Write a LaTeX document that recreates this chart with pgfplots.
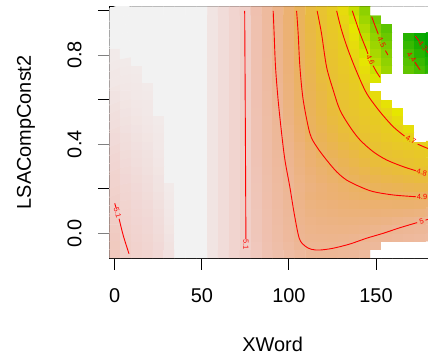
\documentclass[border=0pt]{standalone}
\usepackage{fontspec}
\setmainfont{Liberation Sans}
\usepackage{graphicx}
\usepackage{pgfplots}
\pgfplotsset{compat=1.18}
\pgfplotsset{
 colormap={terrainz}{rgb255(0pt)=(0,166,0); rgb255(100pt)=(45,182,0); rgb255(200pt)=(99,198,0); rgb255(300pt)=(160,214,0); rgb255(380pt)=(230,230,0); rgb255(450pt)=(231,206,29); rgb255(570pt)=(233,189,58); rgb255(630pt)=(234,179,88); rgb255(690pt)=(236,177,118); rgb255(750pt)=(237,182,148); rgb255(820pt)=(239,194,179); rgb255(865pt)=(241,214,211); rgb255(905pt)=(242,242,242); rgb255(910pt)=(255,255,255)},
 cl/.style={red, line width=0.9bp, smooth},
}
\tikzset{clab/.style={text=red, font=\fontsize{7.5}{9}\selectfont, inner sep=0pt}}
\begin{document}
\begin{tikzpicture}
\useasboundingbox (-109.3bp,-98bp) rectangle (318.7bp,258bp);
\clip (-109.3bp,-98bp) rectangle (318.7bp,258bp);
\begin{axis}[
  at={(0,0)}, anchor=south west,
  scale only axis, width=326.6bp, height=251.3bp,
  xmin=-3.125, xmax=184.375, ymin=-0.1108, ymax=1.0168,
  axis line style={black, line width=1bp},
  tick align=outside, major tick length=11.5bp,
  tick pos=left,
  xtick={0,50,100,150}, ytick={0,0.4,0.8},
  extra y ticks={0.2,0.6,1.0}, extra y tick labels={},
  xtick style={black, line width=0.9bp},
  ytick style={gray, line width=1bp},
  extra y tick style={ytick style={black, line width=0.9bp}},
  /pgf/number format/assume math mode=true,
  ticklabel style={font=\fontsize{20}{24}\selectfont, inner sep=0pt},
  xticklabel style={anchor=north, yshift=-18.5bp},
  yticklabel={\rotatebox{90}{\pgfmathprintnumber[fixed,fixed zerofill,precision=1,assume math mode=true]{\tick}}},
  yticklabel style={anchor=east, xshift=-16.1bp},
  xlabel={XWord}, ylabel={LSACompConst2},
  label style={font=\fontsize{20}{24}\selectfont, inner sep=0pt},
  xlabel style={at={(axis description cs:0.5,-0.37008)}, anchor=base},
  ylabel style={at={(axis description cs:-0.23975,0.5)}, anchor=base},
  colormap name=terrainz,
  point meta min=4.25, point meta max=5.16,
]
\addplot[patch, patch type=rectangle, mesh input=image, shader=flat corner, mesh/cols=30, mesh/rows=30, point meta=\thisrowno{0}]
 table[header=false, row sep=\\, x expr={6.25*mod(\coordindex,30)}, y expr={-0.092+0.03759*floor(\coordindex/30)}] {
5.084\\5.097\\5.105\\5.110\\5.118\\5.130\\5.155\\5.155\\5.155\\5.135\\5.123\\5.110\\5.099\\5.084\\5.068\\5.052\\5.036\\5.020\\5.006\\5.004\\5.005\\5.009\\5.014\\5.021\\5.16\\5.16\\5.16\\5.16\\5.16\\5.16\\
5.087\\5.099\\5.107\\5.112\\5.120\\5.132\\5.155\\5.155\\5.155\\5.135\\5.123\\5.110\\5.099\\5.082\\5.064\\5.046\\5.028\\5.007\\4.998\\4.996\\4.997\\5.000\\5.004\\5.009\\5.016\\5.16\\5.16\\5.16\\5.16\\5.16\\
5.089\\5.101\\5.109\\5.114\\5.122\\5.134\\5.155\\5.155\\5.155\\5.135\\5.123\\5.110\\5.099\\5.080\\5.060\\5.040\\5.020\\4.999\\4.991\\4.988\\4.987\\4.988\\4.992\\4.997\\5.003\\5.008\\5.014\\5.019\\5.023\\5.028\\
5.092\\5.104\\5.111\\5.116\\5.124\\5.136\\5.155\\5.155\\5.155\\5.135\\5.123\\5.110\\5.099\\5.079\\5.059\\5.038\\5.018\\4.994\\4.983\\4.979\\4.976\\4.975\\4.977\\4.980\\4.985\\4.992\\5.000\\5.005\\5.010\\5.014\\
5.095\\5.106\\5.113\\5.117\\5.125\\5.138\\5.155\\5.155\\5.155\\5.135\\5.123\\5.110\\5.099\\5.079\\5.058\\5.037\\5.016\\4.989\\4.976\\4.970\\4.966\\4.963\\4.963\\4.964\\4.966\\4.970\\4.976\\4.983\\4.992\\5.004\\
5.097\\5.108\\5.115\\5.119\\5.127\\5.140\\5.155\\5.155\\5.155\\5.135\\5.123\\5.110\\5.099\\5.078\\5.056\\5.034\\5.013\\4.984\\4.968\\4.961\\4.956\\4.951\\4.949\\4.948\\4.946\\4.948\\4.951\\4.954\\4.959\\4.966\\
5.100\\5.110\\5.117\\5.121\\5.129\\5.141\\5.155\\5.155\\5.155\\5.135\\5.123\\5.110\\5.099\\5.077\\5.055\\5.032\\5.009\\4.980\\4.961\\4.953\\4.946\\4.939\\4.934\\4.931\\4.927\\4.926\\4.925\\4.925\\4.926\\4.929\\
5.102\\5.112\\5.118\\5.123\\5.131\\5.142\\5.155\\5.155\\5.155\\5.135\\5.123\\5.110\\5.099\\5.077\\5.053\\5.030\\5.006\\4.975\\4.953\\4.943\\4.935\\4.926\\4.919\\4.913\\4.907\\4.905\\4.902\\4.898\\4.894\\4.893\\
5.105\\5.114\\5.120\\5.125\\5.133\\5.143\\5.155\\5.155\\5.155\\5.135\\5.123\\5.110\\5.099\\5.076\\5.052\\5.027\\5.003\\4.978\\4.958\\4.945\\4.931\\4.918\\4.906\\4.896\\4.886\\4.880\\4.874\\4.867\\4.860\\4.855\\
5.108\\5.117\\5.122\\5.127\\5.134\\5.155\\5.155\\5.155\\5.155\\5.135\\5.123\\5.110\\5.099\\5.075\\5.050\\5.025\\5.000\\4.972\\4.950\\4.933\\4.918\\4.902\\4.891\\4.877\\4.865\\4.855\\4.847\\4.837\\4.827\\4.819\\
5.110\\5.119\\5.124\\5.129\\5.136\\5.155\\5.155\\5.155\\5.155\\5.135\\5.123\\5.110\\5.099\\5.074\\5.048\\5.022\\4.997\\4.967\\4.942\\4.924\\4.906\\4.888\\4.873\\4.858\\4.843\\4.830\\4.819\\4.806\\4.797\\4.783\\
5.113\\5.121\\5.126\\5.131\\5.138\\5.155\\5.155\\5.155\\5.155\\5.135\\5.123\\5.110\\5.099\\5.073\\5.046\\5.020\\4.993\\4.961\\4.933\\4.912\\4.894\\4.875\\4.857\\4.839\\4.821\\4.805\\4.792\\4.778\\4.763\\4.750\\
5.115\\5.123\\5.128\\5.132\\5.140\\5.155\\5.155\\5.155\\5.155\\5.135\\5.123\\5.110\\5.099\\5.072\\5.044\\5.017\\4.988\\4.958\\4.929\\4.899\\4.880\\4.861\\4.842\\4.822\\4.803\\4.787\\4.771\\4.756\\4.740\\4.724\\
5.118\\5.125\\5.130\\5.134\\5.141\\5.155\\5.155\\5.155\\5.155\\5.135\\5.123\\5.110\\5.099\\5.071\\5.043\\5.014\\4.982\\4.948\\4.914\\4.887\\4.866\\4.845\\4.824\\4.803\\4.783\\4.764\\4.745\\4.727\\4.708\\4.689\\
5.121\\5.127\\5.132\\5.136\\5.141\\5.155\\5.155\\5.155\\5.155\\5.135\\5.123\\5.110\\5.099\\5.070\\5.041\\5.011\\4.976\\4.938\\4.901\\4.877\\4.853\\4.829\\4.806\\4.783\\4.761\\4.738\\4.716\\4.691\\5.16\\5.16\\
5.123\\5.130\\5.134\\5.138\\5.142\\5.155\\5.155\\5.155\\5.155\\5.135\\5.123\\5.110\\5.099\\5.070\\5.039\\5.009\\4.972\\4.932\\4.895\\4.868\\4.842\\4.815\\4.790\\4.766\\4.742\\4.717\\4.690\\4.653\\5.16\\5.16\\
5.126\\5.132\\5.136\\5.140\\5.143\\5.155\\5.155\\5.155\\5.155\\5.135\\5.123\\5.110\\5.099\\5.069\\5.038\\5.006\\4.967\\4.926\\4.890\\4.861\\4.832\\4.803\\4.777\\4.752\\4.726\\4.701\\4.661\\5.16\\5.16\\5.16\\
5.128\\5.134\\5.138\\5.141\\5.155\\5.155\\5.155\\5.155\\5.155\\5.135\\5.123\\5.110\\5.099\\5.068\\5.036\\5.004\\4.963\\4.921\\4.884\\4.853\\4.823\\4.793\\4.766\\4.738\\4.711\\4.674\\4.631\\5.16\\5.16\\5.16\\
5.131\\5.136\\5.140\\5.141\\5.155\\5.155\\5.155\\5.155\\5.155\\5.135\\5.123\\5.110\\5.099\\5.067\\5.034\\5.001\\4.959\\4.916\\4.880\\4.848\\4.816\\4.785\\4.754\\4.723\\4.689\\4.643\\5.16\\5.16\\5.16\\5.16\\
5.134\\5.138\\5.141\\5.142\\5.155\\5.155\\5.155\\5.155\\5.155\\5.135\\5.123\\5.110\\5.099\\5.066\\5.033\\4.999\\4.955\\4.912\\4.875\\4.842\\4.808\\4.774\\4.741\\4.707\\4.662\\5.16\\5.16\\5.16\\5.16\\5.16\\
5.136\\5.140\\5.141\\5.143\\5.155\\5.155\\5.155\\5.155\\5.155\\5.135\\5.123\\5.110\\5.099\\5.066\\5.031\\4.996\\4.952\\4.908\\4.871\\4.835\\4.799\\4.765\\4.730\\4.693\\5.16\\5.16\\5.16\\5.16\\5.16\\5.16\\
5.139\\5.141\\5.142\\5.155\\5.155\\5.155\\5.155\\5.155\\5.155\\5.135\\5.123\\5.110\\5.099\\5.065\\5.030\\4.993\\4.949\\4.905\\4.866\\4.828\\4.790\\4.754\\4.718\\4.672\\4.618\\5.16\\5.16\\5.16\\5.16\\5.16\\
5.140\\5.142\\5.143\\5.155\\5.155\\5.155\\5.155\\5.155\\5.155\\5.135\\5.123\\5.110\\5.099\\5.064\\5.028\\4.990\\4.946\\4.902\\4.861\\4.821\\4.782\\4.744\\4.706\\4.654\\4.598\\4.545\\5.16\\4.446\\4.400\\4.343\\
5.142\\5.143\\5.155\\5.155\\5.155\\5.155\\5.155\\5.155\\5.155\\5.135\\5.123\\5.110\\5.099\\5.064\\5.027\\4.989\\4.944\\4.899\\4.857\\4.816\\4.775\\4.734\\4.691\\4.634\\4.578\\4.524\\5.16\\4.424\\4.370\\4.312\\
5.143\\5.155\\5.155\\5.155\\5.155\\5.155\\5.155\\5.155\\5.155\\5.135\\5.123\\5.110\\5.099\\5.063\\5.026\\4.987\\4.942\\4.896\\4.853\\4.810\\4.767\\4.723\\4.673\\4.614\\4.559\\4.505\\5.16\\4.399\\4.338\\4.278\\
5.155\\5.155\\5.155\\5.155\\5.155\\5.155\\5.155\\5.155\\5.155\\5.135\\5.123\\5.110\\5.099\\5.063\\5.026\\4.986\\4.939\\4.893\\4.849\\4.805\\4.759\\4.713\\4.659\\4.600\\4.543\\4.485\\5.16\\4.367\\4.305\\4.243\\
5.155\\5.155\\5.155\\5.155\\5.155\\5.155\\5.155\\5.155\\5.155\\5.135\\5.123\\5.110\\5.099\\5.062\\5.025\\4.984\\4.937\\4.891\\4.845\\4.799\\4.751\\4.703\\4.646\\4.587\\4.525\\4.462\\5.16\\4.334\\4.270\\4.207\\
5.155\\5.155\\5.155\\5.155\\5.155\\5.155\\5.155\\5.155\\5.155\\5.135\\5.123\\5.110\\5.099\\5.062\\5.024\\4.983\\4.936\\4.888\\4.841\\4.793\\4.743\\4.691\\4.631\\4.569\\4.503\\4.437\\5.16\\5.16\\5.16\\5.16\\
5.155\\5.155\\5.155\\5.155\\5.155\\5.155\\5.155\\5.155\\5.155\\5.135\\5.123\\5.110\\5.099\\5.062\\5.023\\4.981\\4.934\\4.886\\4.837\\4.787\\4.734\\4.678\\4.615\\4.547\\4.478\\5.16\\5.16\\5.16\\5.16\\5.16\\
5.155\\5.155\\5.155\\5.155\\5.155\\5.155\\5.155\\5.155\\5.155\\5.135\\5.123\\5.110\\5.099\\5.061\\5.023\\4.980\\4.932\\4.884\\4.834\\4.781\\4.724\\4.662\\4.596\\4.521\\5.16\\5.16\\5.16\\5.16\\5.16\\5.16\\
};
% contour 5.1 (lower left)
\addplot[cl] coordinates {(0,0.1346) (0.82,0.112)};
\addplot[cl] coordinates {(2.5,0.065) (5,-0.013) (8.2,-0.092)};
\node[clab, rotate=-74] at (axis cs:1.6,0.09) {5.1};
% contour 5.1 (vertical)
\addplot[cl] coordinates {(74.6,0.998) (75.0,0.45) (75.3,-0.025)};
\node[clab, rotate=-90] at (axis cs:75.35,-0.049) {5.1};
% contour 5
\addplot[cl] coordinates {(90.96,0.998) (91.5,0.897) (92.3,0.747) (93.8,0.598) (95.8,0.449) (97.7,0.329) (100.5,0.209) (103,0.09) (105.9,-0.022) (109.2,-0.057) (113,-0.072) (117.8,-0.075) (125.4,-0.067) (135,-0.048) (144.6,-0.022) (154.1,0.0) (163.7,0.025) (173.6,0.048)};
\addplot[cl] coordinates {(178.4,0.059) (181.25,0.066)};
\node[clab, rotate=17] at (axis cs:176.2,0.054) {5};
% contour 4.9
\addplot[cl] coordinates {(104.4,0.998) (105.3,0.897) (106.3,0.747) (108.2,0.598) (112,0.449) (115.9,0.389) (121.6,0.329) (127.4,0.276) (133.1,0.239) (140.8,0.209) (148.4,0.187) (159.9,0.172) (172.9,0.164)};
\addplot[cl] coordinates {(179.8,0.164) (181.25,0.164)};
\node[clab] at (axis cs:176.4,0.164) {4.9};
% contour 4.8
\addplot[cl] coordinates {(116.2,0.998) (118.7,0.897) (121.6,0.747) (125.4,0.643) (129.3,0.553) (135,0.478) (140.8,0.419) (148.4,0.366) (156.1,0.329) (165.6,0.299) (172.8,0.281)};
\addplot[cl] coordinates {(179.9,0.267) (181.25,0.265)};
\node[clab, rotate=-14] at (axis cs:176.3,0.273) {4.8};
% contour 4.7
\addplot[cl] coordinates {(127.4,0.998) (130.2,0.912) (134,0.822) (138.9,0.725) (144.6,0.628) (152.2,0.546) (159.9,0.478) (166.4,0.436)};
\addplot[cl] coordinates {(173.9,0.400) (177.5,0.388) (181.25,0.376)};
\node[clab, rotate=-28] at (axis cs:170.1,0.418) {4.7};
% contour 4.6
\addplot[cl] coordinates {(136.4,0.998) (140.8,0.897) (144.6,0.822) (145.3,0.805)};
\addplot[cl] coordinates {(148.3,0.752) (150.3,0.724) (152.3,0.70)};
\node[clab, rotate=-66] at (axis cs:146.8,0.778) {4.6};
% contour 4.5
\addplot[cl] coordinates {(147.5,0.972) (149.5,0.93) (151.3,0.893)};
\addplot[cl] coordinates {(155.4,0.82) (156.8,0.80)};
\node[clab, rotate=-63] at (axis cs:153.3,0.857) {4.5};
% contour 4.4
\addplot[cl] coordinates {(172.3,0.768) (175.3,0.733)};
\node[clab, rotate=-52] at (axis cs:170.4,0.79) {4.4};
% contour 4.3
\addplot[cl] coordinates {(172.5,0.885) (174.9,0.861)};
\addplot[cl] coordinates {(178.9,0.820) (181.25,0.797)};
\node[clab, rotate=-50] at (axis cs:176.9,0.840) {4.3};
\end{axis}
\end{tikzpicture}
\end{document}
